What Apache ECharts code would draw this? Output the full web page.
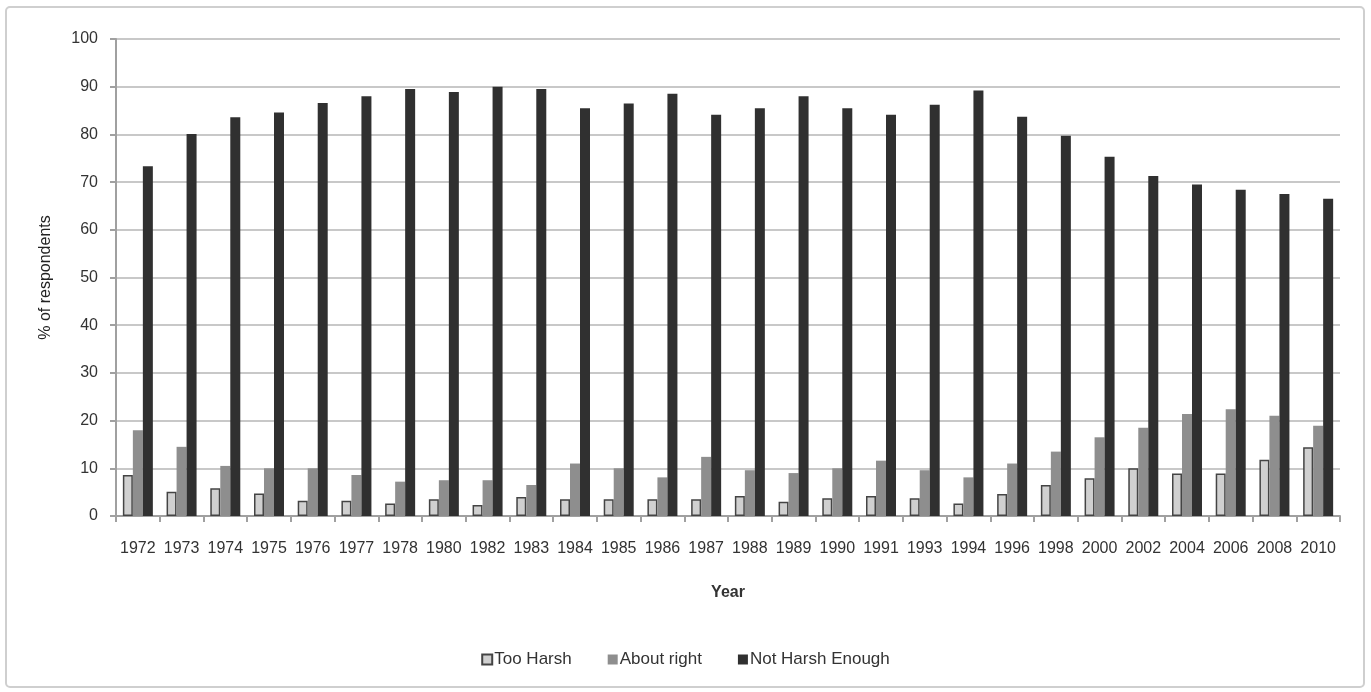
<!DOCTYPE html>
<html>
<head>
<meta charset="utf-8">
<script src="https://cdn.jsdelivr.net/npm/echarts@6/dist/echarts.min.js"></script>
<style>
html,body{margin:0;padding:0;background:#fff;}
#chart{width:1371px;height:692px;}
</style>
</head>
<body>
<div id="chart"></div>
<script>
const years = ['1972','1973','1974','1975','1976','1977','1978','1980','1982','1983','1984','1985','1986','1987','1988','1989','1990','1991','1993','1994','1996','1998','2000','2002','2004','2006','2008','2010'];
const tooHarsh = [8.6,5.1,5.8,4.7,3.2,3.2,2.6,3.5,2.3,4.0,3.5,3.5,3.5,3.5,4.2,3.0,3.7,4.2,3.7,2.6,4.6,6.5,7.9,10.0,8.9,8.9,11.8,14.4];
const aboutRight = [18.0,14.5,10.5,10.0,10.0,8.6,7.2,7.5,7.5,6.5,11.0,10.0,8.1,12.4,9.6,9.0,10.0,11.6,9.6,8.1,11.0,13.5,16.5,18.5,21.4,22.4,21.0,18.9];
const notHarshEnough = [73.3,80.1,83.6,84.6,86.6,88.0,89.5,88.9,90.0,89.5,85.5,86.5,88.5,84.1,85.5,88.0,85.5,84.1,86.2,89.2,83.7,79.7,75.3,71.3,69.5,68.4,67.5,66.5];
const seriesNames = ['Too Harsh','About right','Not Harsh Enough'];

const chart = echarts.init(document.getElementById('chart'));
const fontFam = '"Liberation Sans", Arial, sans-serif';
chart.setOption({
  animation: false,
  backgroundColor: '#fff',
  graphic: [{
    type: 'rect',
    shape: {x: 6, y: 7, width: 1358, height: 680, r: 4},
    style: {fill: 'none', stroke: '#cfcfcf', lineWidth: 2},
    silent: true,
    z: -1
  }],
  grid: {left: 116, right: 31, top: 39, bottom: 176},
  legend: {
    data: seriesNames,
    bottom: 19,
    left: 'center',
    icon: 'rect',
    itemWidth: 10,
    itemHeight: 10,
    itemGap: 36,
    textStyle: {fontFamily: fontFam, fontSize: 17, color: '#333', padding: [0,0,0,-3]}
  },
  xAxis: {
    type: 'category',
    data: years,
    name: 'Year',
    nameLocation: 'middle',
    nameGap: 69,
    nameTextStyle: {fontFamily: fontFam, fontSize: 16, fontWeight: 'bold', color: '#333'},
    axisLine: {lineStyle: {color: '#a0a0a0', width: 2}},
    axisTick: {show: true, length: 6, lineStyle: {color: '#a0a0a0', width: 2}},
    axisLabel: {interval: 0, fontFamily: fontFam, fontSize: 16, color: '#333', margin: 25}
  },
  yAxis: {
    type: 'value',
    min: 0,
    max: 100,
    interval: 10,
    name: '% of respondents',
    nameLocation: 'middle',
    nameGap: 62,
    nameTextStyle: {fontFamily: fontFam, fontSize: 16, color: '#222'},
    axisLine: {show: true, lineStyle: {color: '#a0a0a0', width: 2}},
    axisTick: {show: true, length: 6, lineStyle: {color: '#a0a0a0', width: 2}},
    splitLine: {lineStyle: {color: '#c8c8c8', width: 2}},
    axisLabel: {fontFamily: fontFam, fontSize: 16, color: '#333', margin: 18}
  },
  series: [
    {
      name: seriesNames[0], type: 'bar', data: tooHarsh,
      barWidth: 10, barGap: '0%',
      itemStyle: {color: '#d0d0d0', borderColor: '#444', borderWidth: 1.5}
    },
    {
      name: seriesNames[1], type: 'bar', data: aboutRight,
      barWidth: 10, barGap: '0%',
      itemStyle: {color: '#8e8e8e'}
    },
    {
      name: seriesNames[2], type: 'bar', data: notHarshEnough,
      barWidth: 10, barGap: '0%',
      itemStyle: {color: '#303030'}
    }
  ]
});
</script>
</body>
</html>
